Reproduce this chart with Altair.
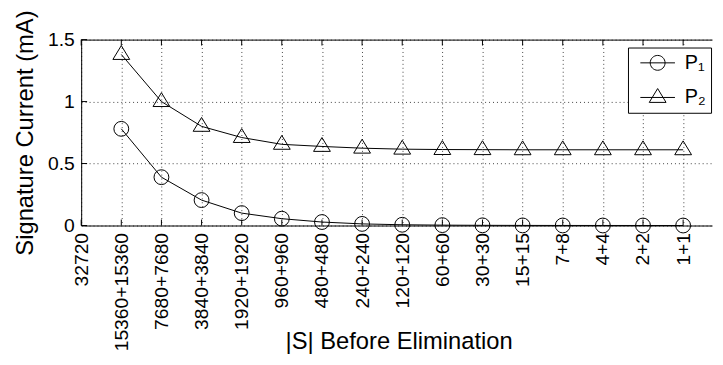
import json
import altair as alt
import pandas as pd

# ---------------- data ----------------
categories = ["32720", "15360+15360", "7680+7680", "3840+3840", "1920+1920",
              "960+960", "480+480", "240+240", "120+120", "60+60", "30+30",
              "15+15", "7+8", "4+4", "2+2", "1+1"]
series_names = ["P\u2081", "P\u2082"]
p1_values = [0.78, 0.39, 0.205, 0.10, 0.055, 0.028, 0.013, 0.006, 0.003,
             0.0015, 0.0008, 0.0004, 0.0002, 0.0001, 0.0]
p2_values = [1.38, 1.0, 0.80, 0.71, 0.655, 0.638, 0.624, 0.616, 0.613,
             0.612, 0.611, 0.611, 0.611, 0.611, 0.611]
y_tick_values = [0, 0.5, 1, 1.5]

# ---------------- tables ----------------
rows = []
for name, vals in zip(series_names, [p1_values, p2_values]):
    for i, v in enumerate(vals):
        rows.append({"idx": i + 1, "cat": categories[i + 1], "series": name, "value": v})
df = pd.DataFrame(rows)
cat_df = pd.DataFrame({"idx": list(range(len(categories))), "cat": categories})
ytick_df = pd.DataFrame({"v": y_tick_values})

FONT = "Liberation Sans"
W, H = 638, 188

xscale = alt.Scale(domain=[0, 15.72], nice=False, zero=False)
yscale = alt.Scale(domain=[0, 1.5], nice=False, zero=False)

x_axis = alt.Axis(
    orient="bottom",
    values=list(range(len(categories))),
    labelExpr=json.dumps(categories) + "[datum.value]",
    labelAngle=270, labelAlign="right", labelBaseline="middle",
    labelPadding=7, labelFontSize=19.5, labelFont=FONT, labelColor="black",
    labelOverlap=False, labelFlush=False, labelBound=False,
    ticks=False, domain=True, domainColor="black", domainWidth=1,
    grid=True, gridColor="black", gridDash=[1, 3], gridWidth=1, gridOpacity=0.75,
    title="|S| Before Elimination", titleFont=FONT, titleFontSize=24,
    titleFontWeight="normal", titleColor="black",
    titleX=321, titleY=124, titleAlign="center", titleBaseline="alphabetic",
)
y_axis = alt.Axis(
    orient="left",
    values=y_tick_values,
    labelExpr="toString(datum.value)",
    labelPadding=7, labelFontSize=19.5, labelFont=FONT, labelColor="black",
    labelBaseline="middle", labelFlush=False, labelOverlap=False,
    ticks=False, domain=True, domainColor="black", domainWidth=1,
    grid=True, gridColor="black", gridDash=[1, 3], gridWidth=1, gridOpacity=0.75,
    title="Signature Current (mA)", titleFont=FONT, titleFontSize=24,
    titleFontWeight="normal", titleColor="black",
    titleAngle=270, titleX=-49, titleY=94, titleAlign="center",
    titleBaseline="alphabetic",
)
top_axis = alt.Axis(orient="top", labels=False, ticks=False, grid=False,
                    domain=True, domainColor="black", domainWidth=1, title=None)

tri_path = "M0,-1.2 L-1.133,0.667 L1.133,0.667 Z"
leg_circle = "M-1.75,0 L1.75,0 M0.75,0 A0.75,0.75 0 1,1 -0.75,0 A0.75,0.75 0 1,1 0.75,0"
leg_tri = "M-1.75,0 L1.75,0 M0,-0.9 L-0.85,0.5 L0.85,0.5 Z"

line = alt.Chart(df).mark_line(color="black", strokeWidth=1).encode(
    x=alt.X("idx:Q", scale=xscale, axis=x_axis),
    y=alt.Y("value:Q", scale=yscale, axis=y_axis),
    detail="series:N",
)

points = alt.Chart(df).mark_point(filled=False, color="black", strokeWidth=1,
                                  size=225, opacity=1).encode(
    x=alt.X("idx:Q", scale=xscale, axis=None),
    y=alt.Y("value:Q", scale=yscale, axis=y_axis),
    shape=alt.Shape("series:N",
                    scale=alt.Scale(domain=series_names, range=["circle", tri_path]),
                    legend=None),
)

legend_layer = alt.Chart(df).transform_filter("false").mark_point(
    filled=False, color="black", strokeWidth=1, opacity=1
).encode(
    shape=alt.Shape(
        "series:N",
        scale=alt.Scale(domain=series_names, range=[leg_circle, leg_tri]),
        legend=alt.Legend(
            orient="none", legendX=553, legendY=8, title=None,
            padding=5, strokeColor="black", fillColor="white",
            symbolSize=400, symbolOffset=14.5, symbolStrokeWidth=1,
            symbolStrokeColor="black",
            labelFontSize=20, labelFont=FONT, labelColor="black",
            labelOffset=17, rowPadding=13,
        ),
    ),
)

bottom_ticks = alt.Chart(cat_df).mark_rule(color="black", strokeWidth=1).encode(
    x=alt.X("idx:Q", scale=xscale, axis=None),
    y=alt.value(H), y2=alt.value(H - 6),
)
top_ticks = alt.Chart(cat_df).mark_rule(color="black", strokeWidth=1).encode(
    x=alt.X("idx:Q", scale=xscale, axis=top_axis),
    y=alt.value(0), y2=alt.value(6),
)
left_ticks = alt.Chart(ytick_df).mark_rule(color="black", strokeWidth=1).encode(
    y=alt.Y("v:Q", scale=yscale, axis=y_axis),
    x=alt.value(0), x2=alt.value(6),
)

chart = alt.layer(
    line, points, bottom_ticks, top_ticks, left_ticks, legend_layer
).resolve_scale(shape="independent").resolve_axis(x="independent").properties(
    width=W, height=H,
    padding={"left": 74, "top": 30, "right": 3, "bottom": 130},
    autosize=alt.AutoSizeParams(type="none"),
    background="white",
).configure_view(stroke=None)

chart.save("out.html", embed_options={"renderer": "svg", "actions": False})
